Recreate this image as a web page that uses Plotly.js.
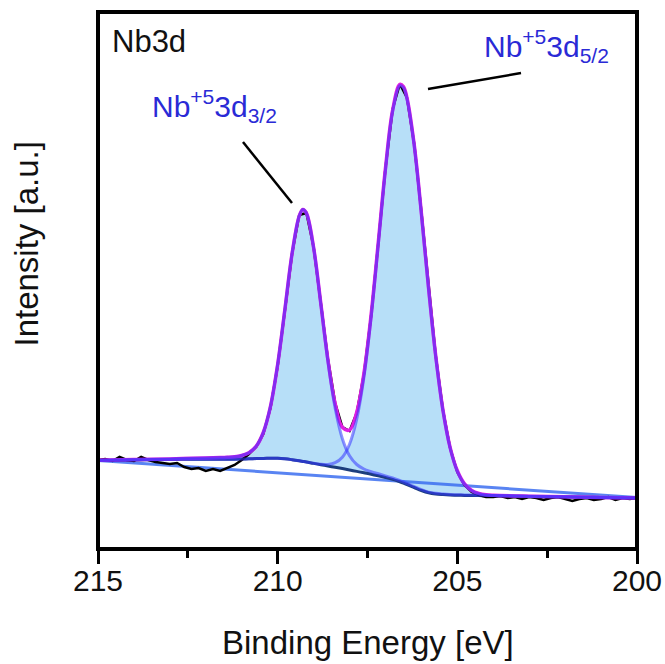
<!DOCTYPE html>
<html>
<head>
<meta charset="utf-8">
<script src="https://cdn.plot.ly/plotly-3.0.1.min.js"></script>
<style>
  html, body { margin: 0; padding: 0; background: #fff; }
  #chart { width: 665px; height: 664px; }
</style>
</head>
<body>
<div id="chart"></div>
<script>
// Nb 3d XPS region: measured spectrum, Shirley background and the two fitted Nb5+ components.

// Binding-energy grid of the fit curves (eV)
const bindingEnergy = [215, 214, 213, 212,
  211.6, 211.4, 211.2, 211.0, 210.8, 210.6, 210.4, 210.2, 210.0, 209.8, 209.6, 209.4,
  209.3,
  209.2, 209.0, 208.8, 208.6, 208.4, 208.2, 208.0, 207.8, 207.6, 207.4, 207.2, 207.0, 206.8, 206.6,
  206.5,
  206.4, 206.2, 206.0, 205.8, 205.6, 205.4, 205.2, 205.0, 204.8, 204.6, 204.4, 204.2, 204.0,
  203, 202, 201, 200];

// Shirley background (a.u.)
const shirleyBackground = [88.5, 89, 89.5, 89.8,
  89.8, 89.8, 89.8, 90.0, 90.2, 90.4, 90.6, 90.7, 90.7, 90.2, 89.3, 88.2,
  87.6,
  87.0, 85.6, 84.3, 83.0, 81.7, 80.4, 79.0, 77.6, 76.2, 74.8, 73.2, 71.5, 69.6, 67.2,
  65.9,
  64.5, 61.5, 58.5, 56.2, 55.0, 54.4, 54.0, 53.8, 53.6, 53.5, 53.4, 53.3, 53.2,
  52.6, 52.0, 51.5, 51.0];

// Nb5+ 3d3/2 component, intensity above the background
const nb3d32 = [0.3, 0.4, 0.6, 1.2,
  1.6, 1.9, 2.4, 3.5, 6.1, 12.2, 25.9, 51.9, 93.9, 149.1, 205.9, 244.8,
  251.8,
  248.8, 215.7, 160.9, 104.1, 59.0, 29.9, 14.2, 6.9, 3.8, 2.6, 2.0, 1.6, 1.4, 1.2,
  1.1,
  1.0, 0.9, 0.8, 0.7, 0.7, 0.6, 0.5, 0.5, 0.4, 0.4, 0.4, 0.3, 0.3,
  0.2, 0.2, 0.1, 0.1];

// Nb5+ 3d5/2 component, intensity above the background
const nb3d52 = [0, 0, 0, 0,
  0, 0, 0, 0, 0, 0, 0, 0, 0, 0, 0, 0,
  0,
  0, 0.2, 0.5, 1.6, 4.6, 11.4, 25.8, 52.2, 95.4, 156.6, 231.3, 307.6, 368.0, 396.2,
  395.4,
  385.4, 341.8, 276.4, 203.7, 137.0, 83.9, 46.9, 23.9, 11.1, 4.7, 1.8, 0.6, 0.2,
  0, 0, 0, 0];

// Linear background end points
const linearEnergy = [215, 200];
const linearIntensity = [88.5, 51.5];

// Measured spectrum
const measuredEnergy = [215.0, 214.8, 214.6, 214.4, 214.2, 214.0, 213.8, 213.6, 213.4, 213.2,
  213.0, 212.8, 212.6, 212.4, 212.2, 212.0, 211.8, 211.6, 211.4, 211.2,
  211.0, 210.8, 210.6, 210.4, 210.2, 210.0, 209.8, 209.6, 209.4, 209.2,
  209.0, 208.8, 208.6, 208.4, 208.2, 208.0, 207.8, 207.6, 207.4, 207.2,
  207.0, 206.8, 206.6, 206.4, 206.2, 206.0, 205.8, 205.6, 205.4, 205.2,
  205.0, 204.8, 204.6, 204.4, 204.2, 204.0, 203.8, 203.6, 203.4, 203.2,
  203.0, 202.8, 202.6, 202.4, 202.2, 202.0, 201.8, 201.6, 201.4, 201.2,
  201.0, 200.8, 200.6, 200.4, 200.2, 200.0];
const measuredIntensity = [89, 90, 88, 92, 89, 88, 92, 89, 87, 86,
  85, 86, 82, 80, 81, 78, 80, 78, 81, 84,
  89, 95, 102, 115, 141, 183, 238, 295, 334, 336,
  302, 246, 190, 146, 122, 118, 136, 175, 233, 306,
  381, 440, 465, 451, 405, 337, 261, 193, 139, 101,
  77, 64, 57, 54, 52, 52, 53, 51, 52, 50,
  52, 51, 49, 51, 52, 50, 48, 50, 51, 49,
  50, 52, 49, 51, 50, 51];

const xTicks = [215, 210, 205, 200];
const xMinorTicks = [212.5, 207.5, 202.5];

// Components sit on the background; the envelope is their sum
const comp32 = shirleyBackground.map((b, i) => b + nb3d32[i]);
const comp52 = shirleyBackground.map((b, i) => b + nb3d52[i]);
const envelope = shirleyBackground.map((b, i) => b + nb3d32[i] + nb3d52[i]);

const FILL = 'rgb(183,223,248)';
const COMP_LINE = 'rgba(55,55,255,0.55)';
const base = { x: bindingEnergy, type: 'scatter', mode: 'lines', hoverinfo: 'skip', showlegend: false };

const traces = [
  Object.assign({}, base, { y: shirleyBackground, line: { width: 0, shape: 'spline' } }),
  Object.assign({}, base, { y: comp32, fill: 'tonexty', fillcolor: FILL, line: { width: 0, shape: 'spline' } }),
  Object.assign({}, base, { y: shirleyBackground, line: { width: 0, shape: 'spline' } }),
  Object.assign({}, base, { y: comp52, fill: 'tonexty', fillcolor: FILL, line: { width: 0, shape: 'spline' } }),
  { x: linearEnergy, y: linearIntensity, type: 'scatter', mode: 'lines', hoverinfo: 'skip', showlegend: false,
    line: { color: 'rgba(60,110,240,0.85)', width: 3 } },
  Object.assign({}, base, { y: shirleyBackground, line: { color: 'rgb(28,62,125)', width: 3, shape: 'spline' } }),
  { x: measuredEnergy, y: measuredIntensity, type: 'scatter', mode: 'lines', hoverinfo: 'skip', showlegend: false,
    line: { color: '#000', width: 2.5 } },
  Object.assign({}, base, { y: envelope, line: { color: 'rgb(225,30,225)', width: 3.5, shape: 'spline' } }),
  Object.assign({}, base, { y: comp32, line: { color: COMP_LINE, width: 3, shape: 'spline' } }),
  Object.assign({}, base, { y: comp52, line: { color: COMP_LINE, width: 3, shape: 'spline' } })
];

const FONT = '"Liberation Sans", Arial, sans-serif';
const LABEL_BLUE = 'rgb(42,42,214)';

const layout = {
  width: 665, height: 664,
  margin: { l: 98, r: 28, t: 12, b: 115 },
  paper_bgcolor: '#fff', plot_bgcolor: '#fff',
  font: { family: FONT, color: '#111' },
  xaxis: {
    range: [215, 200],
    tickmode: 'array', tickvals: xTicks, ticktext: xTicks.map(String),
    ticks: 'outside', ticklen: 14, tickwidth: 3, tickcolor: '#000',
    ticklabelstandoff: -9,
    tickfont: { size: 30, color: '#111' },
    minor: { tickmode: 'array', tickvals: xMinorTicks, ticks: 'outside', ticklen: 8, tickwidth: 3, tickcolor: '#000' },
    showline: false, showgrid: false, zeroline: false
  },
  yaxis: {
    range: [0, 537],
    showticklabels: false, ticks: '',
    showline: false, showgrid: false, zeroline: false
  },
  shapes: [
    { type: 'rect', xref: 'paper', yref: 'paper', x0: 0, x1: 1, y0: 0, y1: 1,
      line: { color: '#000', width: 4 }, layer: 'above' },
    { type: 'line', xref: 'x', yref: 'y', x0: 210.965, y0: 407, x1: 209.601, y1: 346,
      line: { color: '#000', width: 2.5 } },
    { type: 'line', xref: 'x', yref: 'y', x0: 205.816, y0: 460, x1: 203.228, y1: 476,
      line: { color: '#000', width: 2.5 } }
  ],
  annotations: [
    { text: 'Nb3d', xref: 'x', yref: 'y', x: 214.666, y: 507.5, xanchor: 'left', yanchor: 'middle',
      showarrow: false, font: { size: 31, color: '#111' } },
    { text: 'Nb<sup>+5</sup>3d<sub>3/2</sub>', xref: 'x', yref: 'y', x: 213.55, y: 443,
      xanchor: 'left', yanchor: 'middle', showarrow: false, font: { size: 30, color: LABEL_BLUE } },
    { text: 'Nb<sup>+5</sup>3d<sub>5/2</sub>', xref: 'x', yref: 'y', x: 204.3, y: 503,
      xanchor: 'left', yanchor: 'middle', showarrow: false, font: { size: 30, color: LABEL_BLUE } },
    { text: 'Binding Energy [eV]', xref: 'paper', yref: 'paper', x: 0.5, y: -0.1741,
      xanchor: 'center', yanchor: 'middle', showarrow: false, font: { size: 33, color: '#111' } },
    { text: 'Intensity [a.u.]', xref: 'paper', yref: 'paper', x: -0.1317, y: 0.567, textangle: -90,
      xanchor: 'center', yanchor: 'middle', showarrow: false, font: { size: 33, color: '#111' } }
  ]
};

Plotly.newPlot('chart', traces, layout, { displayModeBar: false, staticPlot: true });
</script>
</body>
</html>
